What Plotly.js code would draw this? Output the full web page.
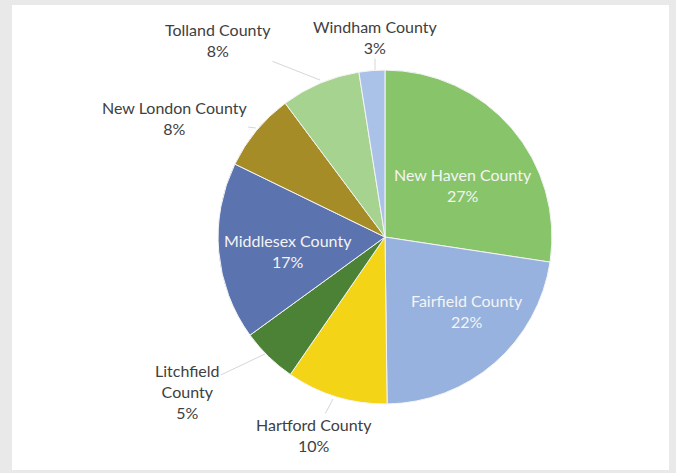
<!DOCTYPE html>
<html>
<head>
<meta charset="utf-8">
<script src="https://cdn.plot.ly/plotly-3.0.1.min.js"></script>
<style>
  html, body { margin: 0; padding: 0; background: #e9e9e9; width: 676px; height: 473px; overflow: hidden; }
  #chart { position: absolute; left: 12px; top: 5px; width: 657px; height: 465px; background: #ffffff; }
</style>
</head>
<body>
<div id="chart"></div>
<script>
// ---- data ----
const counties = ['New Haven County', 'Fairfield County', 'Hartford County', 'Litchfield County',
                  'Middlesex County', 'New London County', 'Tolland County', 'Windham County'];
const shares = [27.4, 22.4, 9.8, 5.4, 17.2, 7.6, 7.7, 2.5];
const displayNames = ['New Haven County', 'Fairfield County', 'Hartford County', 'Litchfield<br>County',
                      'Middlesex County', 'New London County', 'Tolland County', 'Windham County'];

// ---- styles ----
const sliceColors = ['#88C46A', '#97B2DE', '#F3D416', '#4C8236', '#5B73AE', '#A58C26', '#A6D38F', '#ABC2E8'];
const W = 657, H = 465, OX = 12, OY = 5;
const FONT = 'Lato, "Open Sans", sans-serif';
// label placement (page pixels): text centre, and leader-line tip for outside labels
const labelPlacement = [
  { text: [463, 185], inside: true },
  { text: [467, 311], inside: true },
  { text: [314, 435], tip: [333, 399] },
  { text: [187, 391], tip: [265, 354] },
  { text: [288, 251], inside: true },
  { text: [174, 118], tip: [256, 128] },
  { text: [218, 40],  tip: [320, 80] },
  { text: [375, 37],  tip: [375, 70] }
];

const total = shares.reduce((a, b) => a + b, 0);
const px = X => (X - OX) / W;
const py = Y => 1 - (Y - OY) / H;

const annotations = counties.map((c, i) => {
  const p = labelPlacement[i];
  const txt = displayNames[i] + '<br>' + Math.round(shares[i] / total * 100) + '%';
  if (p.inside) {
    return { xref: 'paper', yref: 'paper', x: px(p.text[0]), y: py(p.text[1]),
             text: txt, showarrow: false, xanchor: 'center', yanchor: 'middle',
             font: { family: FONT, size: 16, color: '#f4f4f4' } };
  }
  return { xref: 'paper', yref: 'paper', x: px(p.tip[0]), y: py(p.tip[1]),
           ax: p.text[0] - p.tip[0], ay: p.text[1] - p.tip[1],
           text: txt, showarrow: true, arrowhead: 0, arrowwidth: 1, arrowcolor: '#d6d6d6',
           standoff: 0, startstandoff: 0,
           font: { family: FONT, size: 16, color: '#404040' } };
});

const trace = {
  type: 'pie',
  labels: counties,
  values: shares,
  sort: false,
  direction: 'clockwise',
  rotation: 0,
  marker: { colors: sliceColors, line: { color: '#f4f4f4', width: 1 } },
  textinfo: 'none',
  hoverinfo: 'label+percent',
  domain: { x: [0.3135, 0.822], y: [0.142, 0.860] },
  automargin: false,
  showlegend: false
};

const layout = {
  width: W,
  height: H,
  margin: { l: 0, r: 0, t: 0, b: 0 },
  paper_bgcolor: '#ffffff',
  showlegend: false,
  annotations: annotations
};

Plotly.newPlot('chart', [trace], layout, { displayModeBar: false, staticPlot: true });
</script>
</body>
</html>
